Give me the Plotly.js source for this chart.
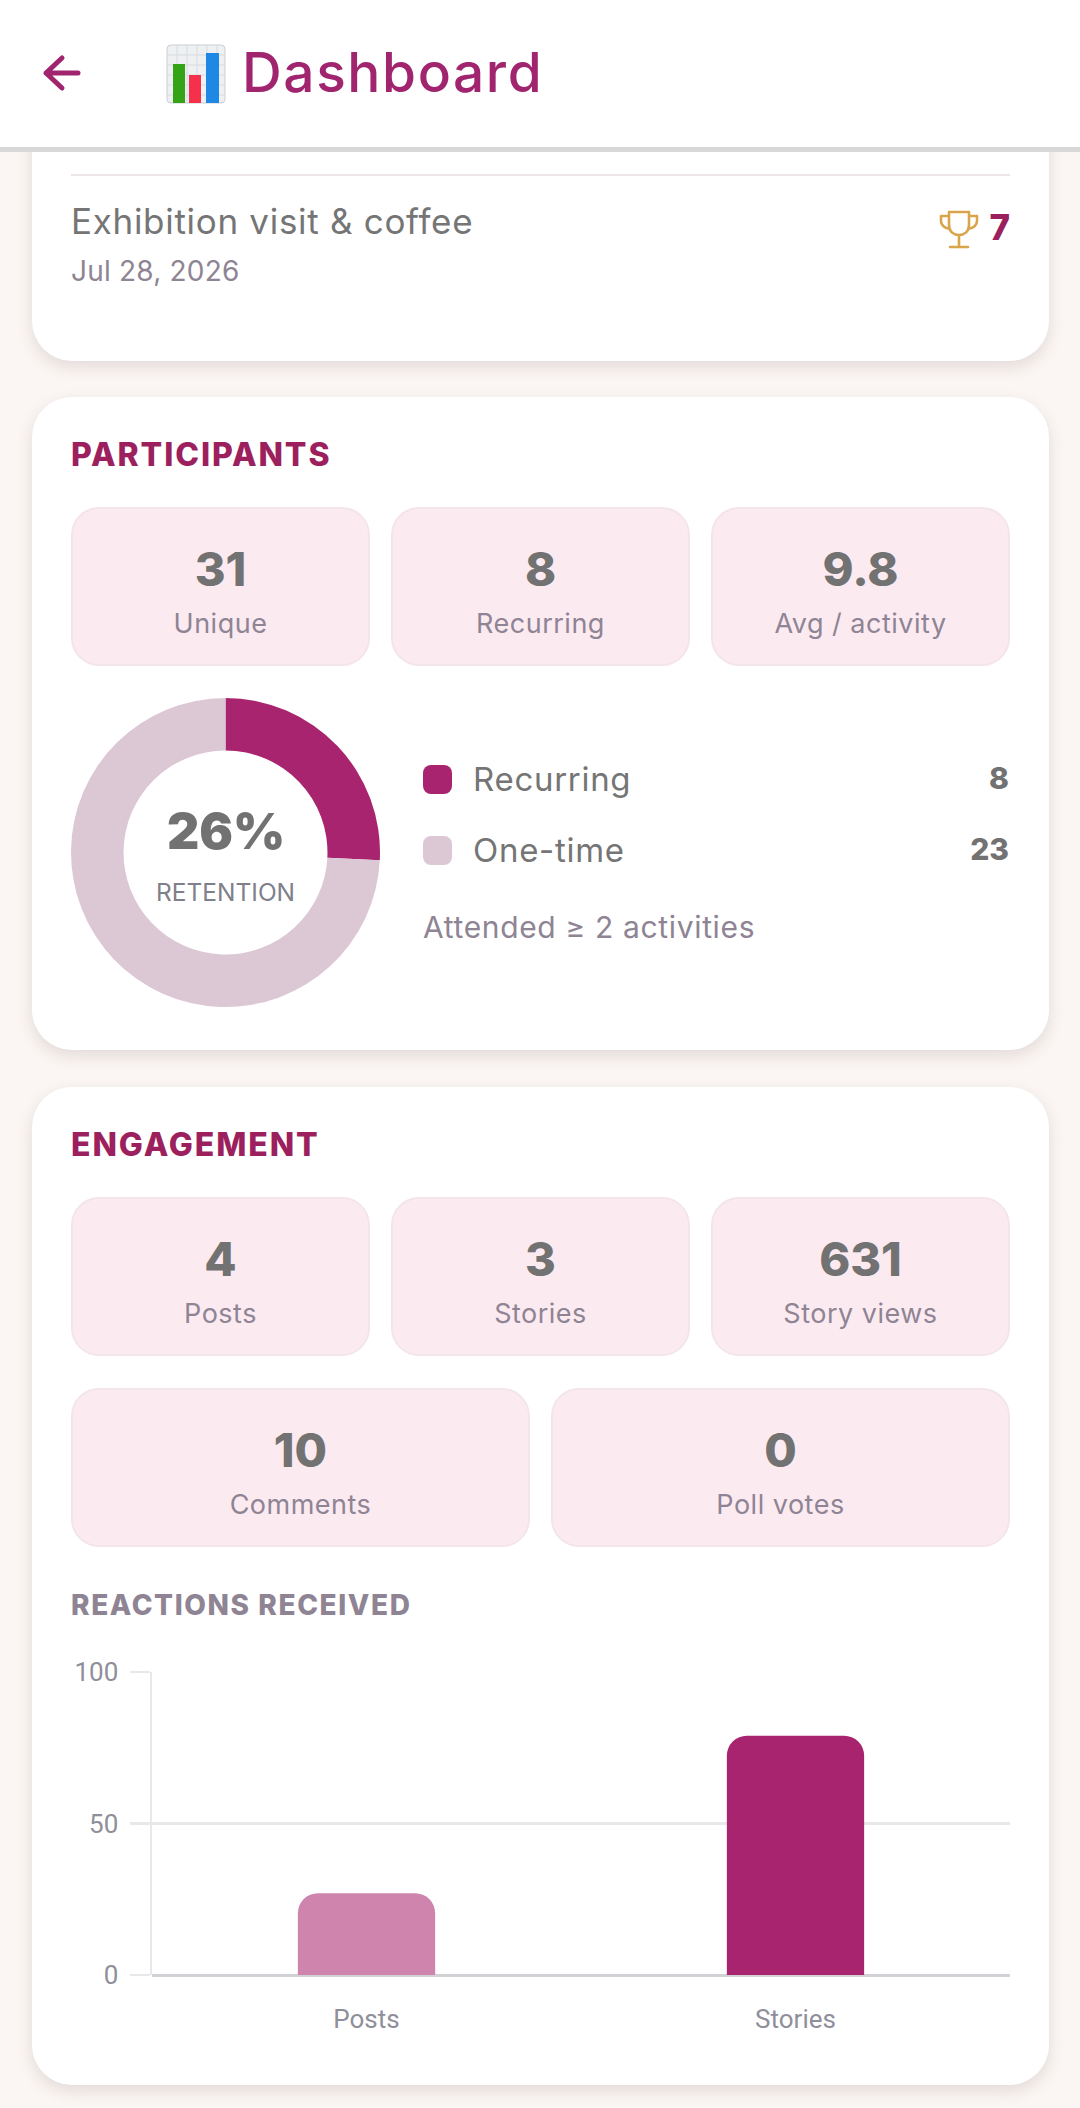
<!DOCTYPE html>
<html>
<head>
<meta charset="utf-8">
<title>Dashboard</title>
<script src="https://cdn.plot.ly/plotly-3.0.1.min.js"></script>
<style>
  html, body { margin: 0; padding: 0; background: #fbf6f3; }
  body { position: relative; width: 1080px; height: 2108px; overflow: hidden; font-family: Inter, sans-serif; }
  .abs { position: absolute; white-space: nowrap; }
  .card { position: absolute; left: 32px; width: 1017px; background: #fff; border-radius: 40px; box-shadow: 0 6px 16px rgba(60,40,50,0.13); }
  .header { position: absolute; left: 0; top: 0; width: 1080px; height: 147px; background: #fff; border-bottom: 5px solid #d8d8d8; z-index: 5; }
  .stat { position: absolute; box-sizing: border-box; background: #fceaf1; border: 2px solid #f3e5eb; border-radius: 28px; }
  .stat .num, .stat .lbl { position: absolute; left: 0; right: 0; text-align: center; }
  .stat .num { font-weight: 800; font-size: 47px; line-height: 60px; color: #727272; }
  .stat .lbl { font-size: 27px; line-height: 36px; letter-spacing: 0.5px; color: #8e8494; }
  .section { left: 71px; font-weight: 800; font-size: 32px; line-height: 40px; color: #9c1f5e; letter-spacing: 1.9px; }
  .swatch { position: absolute; left: 423px; width: 29px; height: 29px; border-radius: 8px; }
  .legtext { left: 473px; font-size: 33px; line-height: 40px; letter-spacing: 0.7px; color: #757575; }
  .legval { right: 71px; font-weight: 800; font-size: 30px; line-height: 40px; color: #727272; }
</style>
</head>
<body>
<div class="card" style="top:60px;height:301px"></div>
<div class="card" style="top:397px;height:653px"></div>
<div class="card" style="top:1087px;height:998px"></div>

<div class="header">
  <svg class="abs" style="left:40px;top:52px" width="44" height="42" viewBox="0 0 44 42">
    <path d="M22 6 L6 21 L22 36 M6 21 L38 21" fill="none" stroke="#a0246e" stroke-width="5" stroke-linecap="round" stroke-linejoin="round"/>
  </svg>
  <svg class="abs" style="left:166px;top:44px" width="60" height="60" viewBox="0 0 60 60">
    <rect x="1" y="1" width="58" height="58" rx="4" fill="#eef0f2" stroke="#c9ced3"/>
    <path d="M1 11H59M1 21H59M1 31H59M1 41H59M1 51H59M11 1V59M21 1V59M31 1V59M41 1V59M51 1V59" stroke="#d7dbe0" stroke-width="1"/>
    <rect x="7" y="20" width="12" height="39" fill="#35a316"/>
    <rect x="23" y="31" width="12" height="28" fill="#f5304a"/>
    <rect x="40" y="9" width="13" height="50" fill="#1e88e5"/>
  </svg>
  <div class="abs" style="left:242px;top:38px;font-size:55px;line-height:68px;font-weight:500;letter-spacing:1.6px;color:#a0246e">Dashboard</div>
</div>

<div class="abs" style="left:71px;top:174px;width:939px;height:2px;background:#ece6ea"></div>
<div class="abs" style="left:71px;top:199px;font-size:35px;line-height:44px;letter-spacing:0.7px;color:#757575">Exhibition visit &amp; coffee</div>
<div class="abs" style="left:71px;top:253px;font-size:28px;line-height:36px;letter-spacing:0.2px;color:#8e8494">Jul 28, 2026</div>
<svg class="abs" style="left:938px;top:208px" width="42" height="42" viewBox="0 0 42 42">
  <path d="M11 4H31V17C31 24 26 27 21 27C16 27 11 24 11 17ZM11 8H3V13C3 18 7 20 12 21M31 8H39V13C39 18 35 20 30 21M21 27V38M12 39H30" fill="none" stroke="#d9a54a" stroke-width="2.6" stroke-linejoin="round" stroke-linecap="round"/>
</svg>
<div class="abs" style="right:70px;top:206px;font-size:35px;line-height:42px;font-weight:800;color:#9c1f5e">7</div>

<div class="abs section" style="top:435px" id="partTitle"></div>
<div id="partDonut" class="abs" style="left:71px;top:698px;width:309px;height:309px"></div>
<div id="legend"></div>
<div class="abs" id="legendNote" style="left:423px;top:908px;font-size:30px;line-height:38px;letter-spacing:0.65px;color:#8e8494"></div>

<div class="abs section" style="top:1125px" id="engTitle"></div>
<div class="abs" id="reactTitle" style="left:71px;top:1587px;font-size:28px;line-height:36px;font-weight:800;letter-spacing:1.6px;color:#8e8494"></div>
<div id="reactChart" class="abs" style="left:32px;top:1640px;width:1017px;height:425px"></div>

<div id="stats"></div>

<script>
  // ── Data ──────────────────────────────────────────────────────────────────
  const PARTICIPANT_VALUES = ['31', '8', '9.8'];
  const PARTICIPANT_LABELS = ['Unique', 'Recurring', 'Avg / activity'];
  const ENGAGEMENT_VALUES = ['4', '3', '631', '10', '0'];
  const ENGAGEMENT_LABELS = ['Posts', 'Stories', 'Story views', 'Comments', 'Poll votes'];

  const RETENTION_LABELS = ['Recurring', 'One-time'];
  const RETENTION_VALUES = [8, 23];
  const RETENTION_COLORS = ['#a9246f', '#dcc8d5'];

  const REACTION_CATEGORIES = ['Posts', 'Stories'];
  const REACTION_VALUES = [27, 79];
  const REACTION_COLORS = ['#cf84ae', '#a9246f'];
  const REACTION_TICKS = [0, 50, 100];

  const GRID = '#e8e8ea';
  const TICK_TEXT = '#8f8f9a';

  const _config = { displayModeBar: false, staticPlot: true };

  // ── Stat boxes ────────────────────────────────────────────────────────────
  function addStat(value, label, left, top, width, height) {
    const box = document.createElement('div');
    box.className = 'stat';
    box.style.cssText = `left:${left}px;top:${top}px;width:${width}px;height:${height}px`;
    const num = document.createElement('div');
    num.className = 'num';
    num.style.top = '30px';
    num.textContent = value;
    const lbl = document.createElement('div');
    lbl.className = 'lbl';
    lbl.style.top = '97px';
    lbl.textContent = label;
    box.append(num, lbl);
    document.getElementById('stats').appendChild(box);
  }

  const COL3 = [71, 391, 711];
  const COL2 = [71, 551];
  PARTICIPANT_VALUES.forEach((v, i) => addStat(v, PARTICIPANT_LABELS[i], COL3[i], 507, 299, 159));
  ENGAGEMENT_VALUES.slice(0, 3).forEach((v, i) => addStat(v, ENGAGEMENT_LABELS[i], COL3[i], 1197, 299, 159));
  ENGAGEMENT_VALUES.slice(3).forEach((v, i) => addStat(v, ENGAGEMENT_LABELS[i + 3], COL2[i], 1388, 459, 159));

  document.getElementById('partTitle').textContent = 'PARTICIPANTS';
  document.getElementById('engTitle').textContent = 'ENGAGEMENT';
  document.getElementById('reactTitle').textContent = 'REACTIONS RECEIVED';
  document.getElementById('legendNote').textContent = 'Attended ≥ 2 activities';

  // ── Donut legend ──────────────────────────────────────────────────────────
  const legend = document.getElementById('legend');
  const LEGEND_ROWS = [765, 836];
  RETENTION_LABELS.forEach((name, i) => {
    const y = LEGEND_ROWS[i];
    legend.insertAdjacentHTML('beforeend',
      `<div class="swatch" style="top:${y}px;background:${RETENTION_COLORS[i]}"></div>` +
      `<div class="abs legtext" style="top:${y - 6}px">${name}</div>` +
      `<div class="abs legval" style="top:${y - 7}px">${RETENTION_VALUES[i]}</div>`);
  });

  // ── Retention donut ───────────────────────────────────────────────────────
  Plotly.newPlot('partDonut', [{
    type: 'pie',
    labels: RETENTION_LABELS,
    values: RETENTION_VALUES,
    hole: 0.66,
    sort: false,
    direction: 'clockwise',
    rotation: 0,
    textinfo: 'none',
    hoverinfo: 'none',
    marker: { colors: RETENTION_COLORS, line: { width: 0 } },
  }], {
    width: 309,
    height: 309,
    margin: { t: 0, r: 0, b: 0, l: 0, pad: 0 },
    paper_bgcolor: 'rgba(0,0,0,0)',
    showlegend: false,
    annotations: [
      { text: '26%', x: 0.5, y: 0.569, xref: 'paper', yref: 'paper', showarrow: false,
        font: { family: 'Inter, sans-serif', size: 50, color: '#727272', weight: 900 } },
      { text: 'RETENTION', x: 0.5, y: 0.372, xref: 'paper', yref: 'paper', showarrow: false,
        font: { family: 'Inter, sans-serif', size: 24.5, color: '#80808a' } },
    ],
  }, _config);

  // ── Reactions bar chart ───────────────────────────────────────────────────
  Plotly.newPlot('reactChart', [{
    type: 'bar',
    x: REACTION_CATEGORIES,
    y: REACTION_VALUES,
    marker: { color: REACTION_COLORS, cornerradius: 20, line: { width: 0 } },
    hoverinfo: 'none',
  }], {
    width: 1017,
    height: 425,
    margin: { t: 32, r: 39, b: 90, l: 120, pad: 0 },
    paper_bgcolor: 'rgba(0,0,0,0)',
    plot_bgcolor: 'rgba(0,0,0,0)',
    bargap: 0.68,
    showlegend: false,
    xaxis: {
      type: 'category',
      ticks: 'outside',
      ticklen: 21,
      tickcolor: 'rgba(0,0,0,0)',
      showgrid: false,
      showline: false,
      zeroline: false,
      tickfont: { family: 'Roboto, sans-serif', size: 26, color: TICK_TEXT },
    },
    yaxis: {
      range: [0, 100],
      tickvals: REACTION_TICKS,
      ticks: 'outside',
      ticklen: 20,
      tickwidth: 2.5,
      tickcolor: GRID,
      ticklabelstandoff: 6,
      showgrid: true,
      gridcolor: GRID,
      gridwidth: 2.5,
      showline: true,
      linecolor: GRID,
      linewidth: 2.5,
      zeroline: true,
      zerolinecolor: '#d2d2d6',
      zerolinewidth: 3,
      tickfont: { family: 'Roboto, sans-serif', size: 26, color: TICK_TEXT },
    },
  }, _config);
</script>
</body>
</html>
